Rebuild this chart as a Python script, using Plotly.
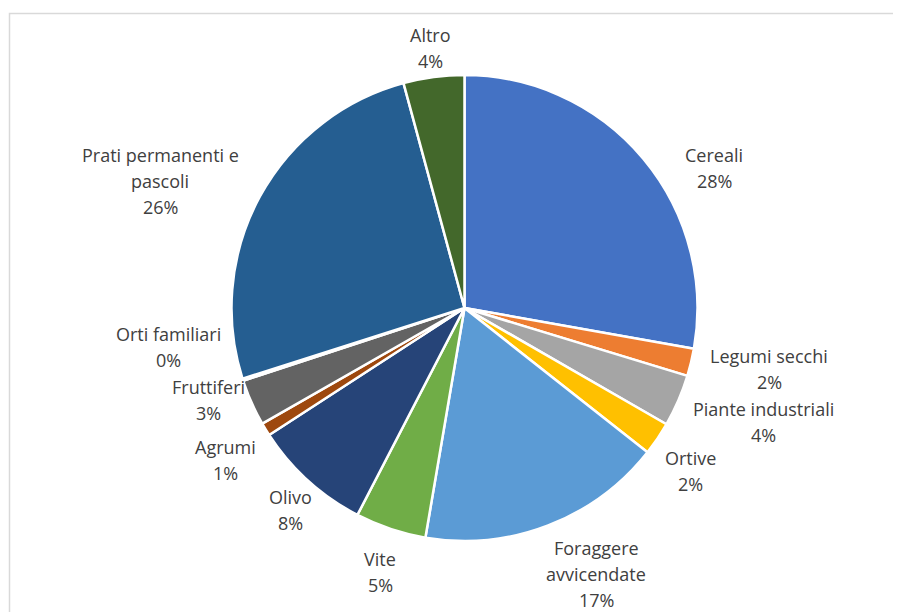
import plotly.graph_objects as go

# page body adds an 8px offset; compensate so the figure sits in the 901x612 window
OFF = 8
W, H = 901 - OFF, 612 - OFF

categories = ["Cereali", "Legumi secchi", "Piante industriali", "Ortive",
              "Foraggere avvicendate", "Vite", "Olivo", "Agrumi", "Fruttiferi",
              "Orti familiari", "Prati permanenti e pascoli", "Altro"]
values = [27.7, 1.9, 3.6, 2.3, 17.0, 4.9, 8.2, 0.9, 3.2, 0.15, 25.6, 4.2]
colors = ["#4472C4", "#ED7D31", "#A5A5A5", "#FFC000", "#5B9BD5", "#70AD47",
          "#264478", "#9E480E", "#636363", "#997300", "#255E91", "#43682B"]

label_lines = {
    "Cereali": ["Cereali"],
    "Legumi secchi": ["Legumi secchi"],
    "Piante industriali": ["Piante industriali"],
    "Ortive": ["Ortive"],
    "Foraggere avvicendate": ["Foraggere", "avvicendate"],
    "Vite": ["Vite"],
    "Olivo": ["Olivo"],
    "Agrumi": ["Agrumi"],
    "Fruttiferi": ["Fruttiferi"],
    "Orti familiari": ["Orti familiari"],
    "Prati permanenti e pascoli": ["Prati permanenti e", "pascoli"],
    "Altro": ["Altro"],
}
label_pos = {  # x centre, y of first line (window px)
    "Cereali": (714, 155),
    "Legumi secchi": (769, 356),
    "Piante industriali": (763, 409),
    "Ortive": (690, 458),
    "Foraggere avvicendate": (596, 548),
    "Vite": (380, 559),
    "Olivo": (290, 497),
    "Agrumi": (225, 447),
    "Fruttiferi": (208, 387),
    "Orti familiari": (168, 334),
    "Prati permanenti e pascoli": (160, 155),
    "Altro": (430, 35),
}

def px(x):
    return (x - OFF) / W

def py(y):
    return 1 - (y - OFF) / H

cx, cy, r = 464.5, 308, 233

fig = go.Figure(go.Pie(
    labels=categories, values=values, sort=False, direction="clockwise",
    rotation=0, textinfo="none", hoverinfo="label+percent",
    marker=dict(colors=colors, line=dict(color="white", width=2.5)),
    domain=dict(x=[px(cx - r), px(cx + r)], y=[py(cy + r), py(cy - r)]),
    showlegend=False,
))

total = sum(values)
LINE = 26
annotations = []
for cat, v in zip(categories, values):
    lines = label_lines[cat] + [f"{round(v / total * 100)}%"]
    x0, y0 = label_pos[cat]
    for i, t in enumerate(lines):
        annotations.append(dict(
            x=px(x0), y=py(y0 + i * LINE), xref="paper", yref="paper",
            text=t, showarrow=False, xanchor="center", yanchor="middle",
            font=dict(family="Open Sans, Carlito, Calibri, sans-serif", size=18, color="#404040"),
        ))

fig.update_layout(
    width=W, height=H, margin=dict(l=0, r=0, t=0, b=0),
    paper_bgcolor="white", plot_bgcolor="white",
    annotations=annotations,
    shapes=[dict(type="rect", xref="paper", yref="paper",
                 x0=px(9.5), x1=1.2, y0=-0.2, y1=py(13.5),
                 line=dict(color="#D9D9D9", width=1.5), fillcolor="rgba(0,0,0,0)",
                 layer="below")],
)

fig.write_html("out.html")
